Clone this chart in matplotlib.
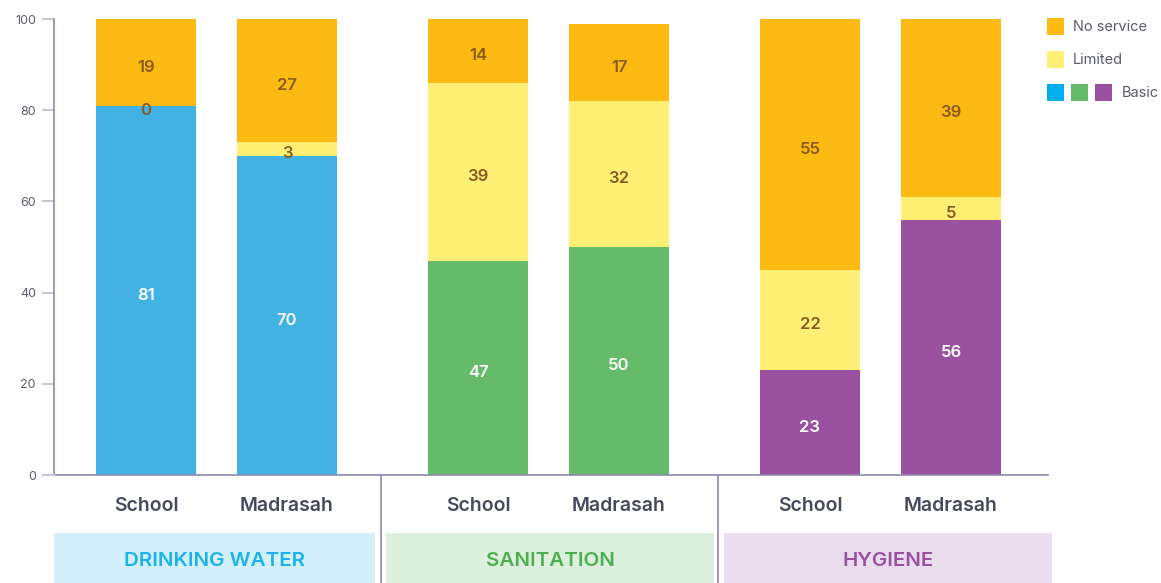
import numpy as np
import matplotlib
matplotlib.use("Agg")
import matplotlib.pyplot as plt
from matplotlib.patches import Rectangle

plt.rcParams['font.family'] = ['Inter', 'DejaVu Sans']

#data
groups = ["DRINKING WATER", "SANITATION", "HYGIENE"]
sites = ["School", "Madrasah"]
basic = [81, 70, 47, 50, 23, 56]
limited = [0, 3, 39, 32, 22, 5]
no_service = [19, 27, 14, 17, 55, 39]
legend_labels = ["No service", "Limited", "Basic"]

#colours
basic_colors = ["#42B1E4", "#42B1E4", "#66BB6A", "#66BB6A", "#9A52A0", "#9A52A0"]
legend_basic = ["#00AEEF", "#66BB6A", "#9A52A0"]
c_limited = "#FFF075"
c_noserv = "#FCBA12"
band_bg = ["#D3F0FA", "#DDEFDD", "#EADDEE"]
band_fg = ["#1CB1E8", "#4CB050", "#9A52A0"]
lab_dark = "#8B5A1E"
axis_col = "#8E8AAD"

W, H = 1161, 583
fig = plt.figure(figsize=(W/100, H/100), dpi=100)

def fx(px):
    return px / W

def fy(py):
    return 1 - py / H

ax = fig.add_axes([fx(54), fy(475), fx(1048) - fx(54), fy(19) - fy(475)])
ax.set_xlim(54, 1048)
ax.set_ylim(0, 100)

#bar positions
pos = []
for g in range(len(groups)):
    for i in range(len(sites)):
        pos.append(146 + 332*g + 141*i)
pos = np.array(pos)
bw = 100

b = np.array(basic)
l = np.array(limited)
n = np.array(no_service)
ax.bar(pos, b, width=bw, color=basic_colors, zorder=2)
ax.bar(pos, l, width=bw, bottom=b, color=c_limited, zorder=2)
ax.bar(pos, n, width=bw, bottom=b + l, color=c_noserv, zorder=2)

def seg_label(x, y, txt, col):
    ax.annotate(txt, (x, y), xytext=(0, -3.5), textcoords="offset points", ha="center", va="center",
                color=col, fontsize=12, fontweight="semibold", zorder=3)

for k in range(len(pos)):
    seg_label(pos[k], b[k]/2, str(b[k]), "white")
    seg_label(pos[k], b[k] + l[k]/2, str(l[k]), lab_dark)
    seg_label(pos[k], b[k] + l[k] + n[k]/2, str(n[k]), lab_dark)

ax.set_yticks(range(0, 101, 20))
ax.tick_params(axis="y", length=9, width=1.5, color="#C8C8D2", labelsize=9, labelcolor="#5A5C6A", pad=4)
ax.set_xticks([])
for s in ["top", "right"]:
    ax.spines[s].set_visible(False)
ax.spines["left"].set_color(axis_col)
ax.spines["bottom"].set_color(axis_col)
ax.spines["left"].set_linewidth(1.2)
ax.spines["bottom"].set_linewidth(1.2)

#x-axis extension to the left of zero
fig.add_artist(plt.Line2D([fx(45), fx(54)], [fy(475), fy(475)], color="#C8C8D2", lw=1.5))

#site labels
for k in range(len(pos)):
    x_fig = fx(54) + (pos[k] - 54) / (1048 - 54) * (fx(1048) - fx(54))
    fig.text(x_fig, fy(506), sites[k % 2], ha="center", va="center", fontsize=14, fontweight="semibold", color="#464A5C")

#separators
for sx in [381, 718]:
    fig.add_artist(plt.Line2D([fx(sx), fx(sx)], [fy(475), 0], color=axis_col, lw=1.2))

#group bands
bands = [(54, 375), (386, 714), (724, 1052)]
for g in range(len(groups)):
    x0, x1 = bands[g]
    fig.add_artist(Rectangle((fx(x0), 0), fx(x1) - fx(x0), fy(533), color=band_bg[g], transform=fig.transFigure, lw=0))
    fig.text((fx(x0) + fx(x1)) / 2, fy(561), groups[g], ha="center", va="center", fontsize=14.8, fontweight="semibold", color=band_fg[g])

#legend
sq = 17
fig.add_artist(Rectangle((fx(1047), fy(35)), fx(sq), sq / H, color=c_noserv, transform=fig.transFigure, lw=0))
fig.text(fx(1073), fy(27), legend_labels[0], va="center", ha="left", fontsize=10.5, color="#5A5C6A")
fig.add_artist(Rectangle((fx(1047), fy(68)), fx(sq), sq / H, color=c_limited, transform=fig.transFigure, lw=0))
fig.text(fx(1073), fy(60), legend_labels[1], va="center", ha="left", fontsize=10.5, color="#5A5C6A")
for i, c in enumerate(legend_basic):
    fig.add_artist(Rectangle((fx(1047 + 24*i), fy(101)), fx(sq), sq / H, color=c, transform=fig.transFigure, lw=0))
fig.text(fx(1122), fy(93), legend_labels[2], va="center", ha="left", fontsize=10.5, color="#5A5C6A")

plt.savefig("out.png", dpi=100)
